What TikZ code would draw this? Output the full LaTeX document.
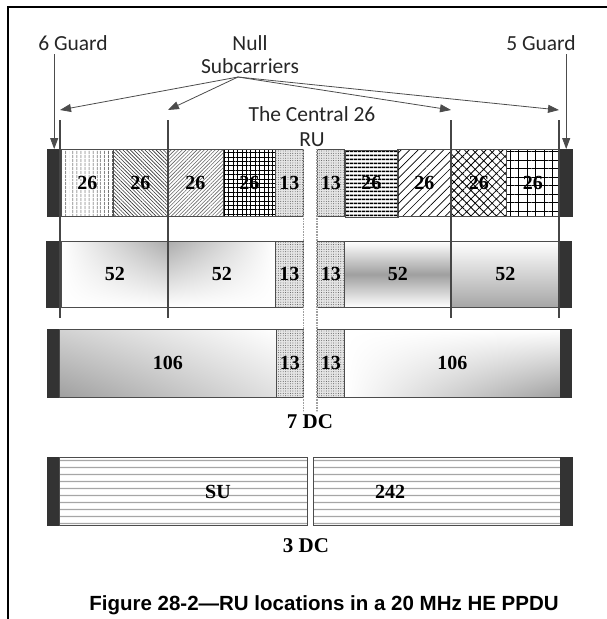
\documentclass[tikz,border=0pt]{standalone}
\usepackage{fontspec}
\setmainfont{Liberation Serif}
\newfontfamily\lblfont{Carlito}
\newfontfamily\capfont{Liberation Sans}
\usepackage{tikz}
\usetikzlibrary{arrows.meta, patterns.meta, shadings, positioning}

\begin{document}
\begin{tikzpicture}[x=1pt, y=-1pt,
    blk/.style={draw=black!70, line width=0.8pt, anchor=north west, inner sep=0pt,
                minimum height=67pt, font=\fontsize{20}{24}\selectfont\bfseries},
    guard/.style={draw=black!80, fill=black!80, anchor=north west, inner sep=0pt,
                  minimum height=67pt, minimum width=#1},
    dotblk/.style={blk, minimum width=27pt, preaction={fill=gray!20},
                   pattern={Dots[distance=2.4pt, radius=0.45pt]}, pattern color=black!75},
    sublk/.style={draw=gray!60!black, line width=1pt, anchor=north west, inner sep=0pt,
                  minimum height=67pt, pattern={Lines[angle=0, distance=7.4pt, line width=1.5pt]},
                  pattern color=gray!70},
    lbl/.style={font=\lblfont\fontsize{21.5}{25}\selectfont, text=black!85, align=center},
    num/.style={font=\fontsize{20}{24}\selectfont\bfseries},
    nul/.style={draw=gray!55!black, line width=2.6pt},
    dcl/.style={draw=gray!75, line width=1.3pt, dash pattern=on 1pt off 0.6pt},
    arr/.style={draw=gray!60!black, line width=0.8pt, -{Triangle[length=11pt, width=8pt]}}
]
\useasboundingbox (0,0) rectangle (607,619);
\draw[line width=1.2pt] (8,619) -- (8,7) -- (607,7);

% labels
\node[lbl] (g6) at (73,43) {6 Guard};
\node[lbl] (g5) at (541,43) {5 Guard};
\node[lbl, font=\lblfont\fontsize{21.5}{23}\selectfont] (null) at (250,55) {Null\\Subcarriers};
\node[lbl] (cru) at (312,127) {The Central 26\\RU};

% row 1: 26-tone RUs
\node[guard=14pt] (g1l) at (47,149) {};
\node[blk, minimum width=52pt, pattern={Lines[angle=90, distance=4pt, line width=0.9pt]}] (r1a) at (61,149) {26};
\node[blk, minimum width=54pt, pattern={Lines[angle=-45, distance=2.6pt, line width=0.6pt]}, pattern color=black!80] (r1b) at (113,149) {26};
\node[blk, minimum width=56pt, pattern={Lines[angle=45, distance=2.6pt, line width=0.6pt]}, pattern color=black!60] (r1c) at (167,149) {26};
\node[blk, minimum width=52pt, pattern={Hatch[angle=0, distance=4.4pt, line width=0.9pt]}] (r1d) at (223,149) {26};
\node[dotblk, minimum width=28pt] (r1e) at (275,149) {13};
\node[dotblk] (r1f) at (317,149) {13};
\node[blk, minimum width=53pt, pattern={Lines[angle=0, distance=4pt, line width=1.8pt]}] (r1g) at (344,149) {26};
\node[blk, minimum width=54pt, pattern={Lines[angle=45, distance=6pt, line width=0.7pt]}] (r1h) at (397,149) {26};
\node[blk, minimum width=55pt, pattern={Hatch[angle=45, distance=6pt, line width=0.8pt]}] (r1i) at (451,149) {26};
\node[blk, minimum width=53pt, pattern={Hatch[angle=0, distance=8.5pt, line width=0.7pt]}] (r1j) at (506,149) {26};
\node[guard=12pt] (g1r) at (560,149) {};

% row 2: 52-tone RUs
\node[guard=14pt, minimum height=66pt] (g2l) at (46,241) {};
\node[blk, draw=gray!60!black, minimum width=107pt, minimum height=66pt,
      upper left=white, upper right=gray!65, lower left=white, lower right=white] (r2a) at (61,241) {52};
\node[blk, draw=gray!60!black, minimum width=107pt, minimum height=66pt,
      upper left=gray!65, upper right=white, lower left=white, lower right=white] (r2b) at (168,241) {52};
\node[dotblk, minimum width=28pt, minimum height=66pt] (r2c) at (275,241) {13};
\node[dotblk, minimum height=66pt] (r2d) at (317,241) {13};
\node[blk, draw=gray!60!black, minimum width=107pt, minimum height=66pt,
      top color=white, bottom color=white, middle color=gray!75] (r2e) at (344,241) {52};
\node[blk, draw=gray!60!black, minimum width=108pt, minimum height=66pt,
      top color=white, bottom color=gray!70] (r2f) at (451,241) {52};
\node[guard=11pt, minimum height=66pt] (g2r) at (560,241) {};

% row 3: 106-tone RUs
\node[guard=12pt, minimum height=68pt] (g3l) at (47,329) {};
\node[blk, draw=gray!60!black, minimum width=217pt, minimum height=68pt,
      upper left=gray!35, upper right=white, lower left=gray!75, lower right=gray!25] (r3a) at (59,329) {106};
\node[dotblk, minimum height=68pt] (r3b) at (276,329) {13};
\node[dotblk, minimum height=68pt] (r3c) at (317,329) {13};
\node[blk, draw=gray!60!black, minimum width=216pt, minimum height=68pt,
      upper left=white, upper right=white, lower left=white, lower right=gray!75] (r3d) at (344,329) {106};
\node[guard=11pt, minimum height=68pt] (g3r) at (560,329) {};

% row 4: SU 242
\node[guard=12pt, minimum height=68pt] (g4l) at (47,457) {};
\node[sublk, minimum width=248pt, minimum height=68pt] (r4a) at (59,457) {};
\node[sublk, minimum width=247pt, minimum height=68pt] (r4b) at (313,457) {};
\node[guard=12pt, minimum height=68pt] (g4r) at (560,457) {};
\node[num] (su) at (218,492) {SU};
\node[num] (tot) at (390,492) {242};

% null subcarriers
\coordinate (nt1) at (60,120);  \coordinate (nb1) at (60,318);
\coordinate (nt2) at (168,120); \coordinate (nb2) at (168,318);
\coordinate (nt3) at (451,120); \coordinate (nb3) at (451,318);
\coordinate (nt4) at (559,120); \coordinate (nb4) at (559,318);
\draw[nul] (nt1) -- (nb1);
\draw[nul] (nt2) -- (nb2);
\draw[nul] (nt3) -- (nb3);
\draw[nul] (nt4) -- (nb4);

% DC
\node[num, font=\fontsize{21}{24}\selectfont\bfseries] (dc7) at (310,422) {7 DC};
\node[num, font=\fontsize{21}{24}\selectfont\bfseries] (dc3) at (306,546) {3 DC};
\draw[dcl] (r1e.north east) -- (r1e.north east |- dc7.north);
\draw[dcl] (r1f.north west) -- (r1f.north west |- dc7.north);

% arrows
\coordinate (nsrc) at (238,77);
\draw[arr] (nsrc) -- ([yshift=10pt]nt1);
\draw[arr] (nsrc) -- ([yshift=10pt]nt2);
\draw[arr] (nsrc) -- ([yshift=10pt]nt3);
\draw[arr] (nsrc) -- ([yshift=10pt]nt4);
\draw[arr] (g1l.north |- g6.south) -- (g1l.north);
\draw[arr] (g1r.north |- g5.south) -- (g1r.north);

\node[font=\capfont\bfseries\fontsize{20.5}{24}\selectfont] (cap) at (324,605) {Figure 28-2—RU locations in a 20 MHz HE PPDU};
\end{tikzpicture}
\end{document}
